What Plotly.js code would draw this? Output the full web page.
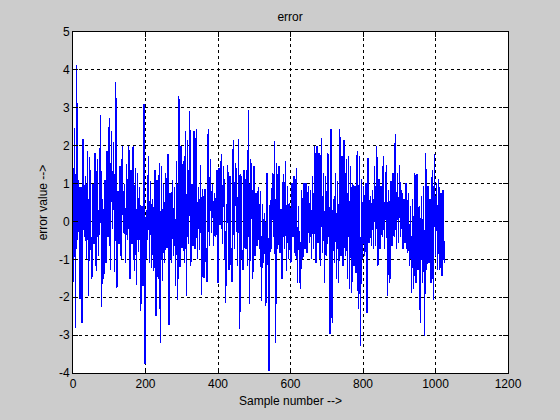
<!DOCTYPE html>
<html>
<head>
<meta charset="utf-8">
<script src="https://cdn.plot.ly/plotly-3.0.1.min.js"></script>
<style>html,body{margin:0;padding:0;background:#cccccc;}#chart{width:560px;height:420px;}
.scatterlayer path.js-line{shape-rendering:crispEdges;}</style>
</head>
<body>
<div id="chart"></div>
<script>
// error values, one every 3 samples (samples 1..1024)
const errorValues = [
-1.6,2.47,-2.8,4.12,-0.5,1.1,-2.04,0.9,-2.67,2.18,
-0.4,1.2,-1.0,1.86,-1.97,1.7,-0.3,-1.53,1.0,-0.6,
1.81,-1.3,1.65,-0.9,0.3,2.8,-2.26,0.6,-1.53,1.1,
-1.1,1.87,-0.4,2.74,-1.27,2.4,-0.2,2.1,-1.34,3.69,
-1.75,0.8,-0.6,1.46,-1.0,1.99,-0.3,1.0,-1.1,1.52,
-0.5,1.99,-1.53,1.37,-0.6,1.99,-1.31,1.42,-1.67,1.27,
-0.8,0.9,-2.37,0.4,-1.7,3.09,-3.77,0.3,-0.5,1.72,
-1.09,1.08,-1.22,0.6,-1.3,1.37,-2.5,1.1,-1.53,1.55,
-3.2,1.46,-1.57,1.0,-1.1,1.28,-0.7,1.77,-2.72,0.75,
-1.1,1.1,-0.9,0.9,-1.7,1.59,-2.06,3.31,-1.2,1.99,
-0.7,1.6,-1.1,2.38,-1.97,2.16,-0.6,2.91,-1.18,1.0,
-0.65,2.38,-0.74,2.43,-1.0,0.9,-0.75,1.5,-1.93,0.85,
-1.5,0.85,-1.0,-1.6,2.44,-0.65,1.64,-0.3,1.0,-0.65,
0.75,-0.4,1.37,-1.62,1.4,-0.1,1.77,-0.6,1.46,0.6,
-2.15,0.23,1.5,-1.27,1.2,-1.09,-1.6,2.16,-0.74,1.55,
1.2,-1.18,2.18,-2.85,1.24,-0.9,-1.27,1.37,-0.74,1.37,
-1.18,2.95,-2.19,1.65,1.2,-1.53,1.46,-0.9,0.74,-0.65,
0.9,-0.74,0.8,-2.1,0.45,-1.09,0.23,-2.23,1.28,-0.74,
-3.95,0.57,-0.74,1.28,-0.4,2.12,-3.2,1.55,-0.74,1.46,
-0.83,0.32,-1.53,1.24,-0.74,1.59,-1.31,0.93,-1.0,0.49,
-1.09,1.02,-0.4,1.2,-0.9,1.41,-1.62,0.4,-1.44,-1.79,
0.84,-1.0,1.02,-0.74,1.02,-0.83,0.93,-0.56,0.84,-1.0,
1.2,-0.74,1.99,-1.09,1.99,-0.56,1.81,-1.18,2.2,-0.83,
1.29,-1.62,1.2,-0.9,1.81,0.3,-2.98,2.44,-2.67,0.58,
-1.09,1.27,-1.53,1.06,-1.62,2.43,-0.9,1.72,-1.18,2.16,
-0.9,1.64,-1.53,1.72,-1.79,1.46,-1.88,1.02,-1.18,0.93,
-1.36,1.86,-2.32,1.72,-3.29,1.11,-1.0,0.93,-0.9,1.02,
-2.41,1.68,-0.56,0.67,-0.65,0.84,-0.74,1.46,-0.65,1.99,
-1.18,1.11,-0.74,0.93,-0.4,1.72,-0.74,0.98,1.5,-1.97,
0.84,-1.62,1.06,-0.65,1.28,-0.4,2.3,-0.74,1.28,-0.56,
1.5,-0.4,0.84,-0.74,0.58,-0.56,1.02,-0.83,0.76,-1.18,
0.4,-1.88,0.58,-1.79,1.28,-1.62,1.24,-1.27,0.4,-2.67,
0.67,-1.62,0.93,-3.03,1.81,-1.27,0.93,-1.09,0.58,-1.62,
1.37,-2.06,1.77,-0.9,1.02,-1.27,1.11,-1.27,0.76,-1.44,
0.84,-1.09
];
const xTicks = [0, 200, 400, 600, 800, 1000, 1200];
const yTicks = [-4, -3, -2, -1, 0, 1, 2, 3, 4, 5];

const font = {family: 'Liberation Sans, Arial, Helvetica, sans-serif', size: 12, color: '#000'};

const trace = {
  type: 'scatter', mode: 'lines',
  x0: 1, dx: 3,
  y: errorValues,
  line: {color: '#0000ff', width: 1.3},
  hoverinfo: 'skip'
};

const axisCommon = {
  showline: true, linecolor: '#000', linewidth: 1, mirror: 'allticks',
  ticks: 'inside', ticklen: 5, tickcolor: '#000', tickwidth: 1,
  showgrid: true, gridcolor: '#000', gridwidth: 1, griddash: '3px,3px',
  zeroline: false, tickfont: font
};

const layout = {
  width: 560, height: 420,
  paper_bgcolor: '#cccccc', plot_bgcolor: '#ffffff',
  margin: {l: 73, r: 52, t: 32, b: 47},
  showlegend: false,
  title: {text: 'error', font: {family: font.family, size: 12, color: '#000'}, x: 0.518, xanchor: 'center', y: 0.96, yanchor: 'middle'},
  xaxis: Object.assign({}, axisCommon, {
    range: [0, 1200], tickvals: xTicks, ticktext: xTicks.map(String),
    title: {text: 'Sample number -->', font: font, standoff: 6}
  }),
  yaxis: Object.assign({}, axisCommon, {
    range: [-4, 5], tickvals: yTicks, ticktext: yTicks.map(String),
    title: {text: 'error value -->', font: font, standoff: 8}
  })
};

Plotly.newPlot('chart', [trace], layout, {staticPlot: true, displayModeBar: false}).then(function () {
  document.querySelectorAll('.scatterlayer path.js-line').forEach(function (p) {
    p.style.shapeRendering = 'crispEdges';
  });
});
</script>
</body>
</html>
